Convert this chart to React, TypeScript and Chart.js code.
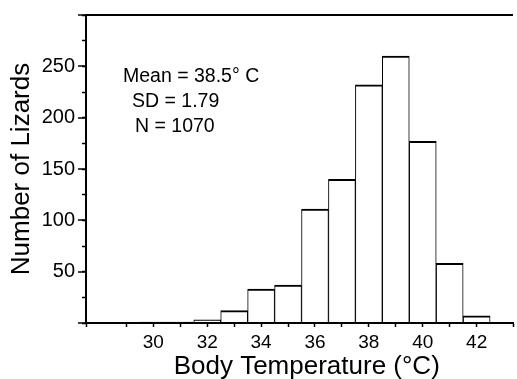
import React, { useEffect, useRef } from "react";
import { Chart, registerables } from "chart.js";

Chart.register(...registerables);

const temperatures = [30, 31, 32, 33, 34, 35, 36, 37, 38, 39, 40, 41, 42];
const lizardCounts = [1, 1, 3, 12, 33, 37, 111, 140, 232, 260, 177, 58, 7];
const xTickLabels = [30, 32, 34, 36, 38, 40, 42];
const yTickLabels = [50, 100, 150, 200, 250];
const statsLines = ["Mean = 38.5\u00b0 C", "SD = 1.79", "N = 1070"];

const FONT = '"Liberation Sans", Arial, Helvetica, sans-serif';

const statsPlugin = {
  id: "statsText",
  afterDatasetsDraw(chart: any) {
    const { ctx, chartArea } = chart;
    const offsets = [
      [37, 66.5],
      [46, 92],
      [49, 117],
    ];
    ctx.save();
    ctx.fillStyle = "#000";
    ctx.font = `19.5px ${FONT}`;
    ctx.textAlign = "left";
    ctx.textBaseline = "alphabetic";
    statsLines.forEach((line, i) => {
      ctx.fillText(line, chartArea.left + offsets[i][0], chartArea.top + offsets[i][1]);
    });
    ctx.restore();
  },
};

export default function App() {
  const ref = useRef<HTMLCanvasElement | null>(null);

  useEffect(() => {
    if (!ref.current) return;
    const chart = new Chart(ref.current, {
      type: "bar",
      data: {
        datasets: [
          {
            data: temperatures.map((t, i) => ({ x: t, y: lizardCounts[i] })),
            backgroundColor: "#fff",
            borderColor: "#000",
            borderWidth: { top: 2, left: 1, right: 1, bottom: 0 },
            borderSkipped: "start",
            barPercentage: 1,
            categoryPercentage: 1,
          },
        ],
      },
      options: {
        responsive: false,
        animation: false,
        layout: { padding: { left: 0, top: 13, right: 0, bottom: 0 } },
        plugins: {
          legend: { display: false },
          tooltip: { enabled: false },
        },
        scales: {
          x: {
            type: "linear",
            min: 27.5,
            max: 43.35,
            offset: false,
            grid: {
              offset: false,
              drawOnChartArea: false,
              tickLength: 4,
              tickColor: "#000",
              tickWidth: 1.5,
            },
            border: { display: true, color: "#000", width: 2 },
            ticks: {
              stepSize: 1,
              autoSkip: false,
              maxRotation: 0,
              padding: 4,
              color: "#000",
              font: { family: FONT, size: 19 },
              callback: (v: any) => (xTickLabels.includes(Number(v)) ? String(v) : ""),
            },
            title: {
              display: true,
              text: "  Body Temperature (\u00b0C)",
              color: "#000",
              font: { family: FONT, size: 26, lineHeight: 1 },
              padding: { top: 0, bottom: -1 },
            },
            afterFit: (s: any) => {
              s.height = 56;
            },
          },
          y: {
            type: "linear",
            position: "left",
            weight: 1,
            min: 0,
            max: 300,
            grid: {
              drawOnChartArea: true,
              color: (c: any) => (c.tick && c.tick.value === 300 ? "#000" : "rgba(0,0,0,0)"),
              lineWidth: 2,
              tickColor: "#000",
              tickWidth: 1.5,
              tickLength: 8,
            },
            border: { display: true, color: "#000", width: 2 },
            ticks: {
              stepSize: 50,
              padding: 3,
              color: "#000",
              font: { family: FONT, size: 20 },
              callback: (v: any) => (yTickLabels.includes(Number(v)) ? String(v) : ""),
            },
            title: {
              display: true,
              text: "Number of Lizards",
              color: "#000",
              font: { family: FONT, size: 26, lineHeight: 1 },
              padding: { top: 9, bottom: 0 },
            },
            afterFit: (s: any) => {
              s.width = 86;
            },
          },
          yMinor: {
            type: "linear",
            position: "left",
            weight: 0,
            min: 0,
            max: 300,
            grid: {
              drawOnChartArea: false,
              tickColor: "#000",
              tickWidth: 1.5,
              tickLength: 4,
            },
            border: { display: false },
            ticks: { stepSize: 25, display: false },
            afterFit: (s: any) => {
              s.width = 0;
            },
          },
        },
      } as any,
      plugins: [statsPlugin],
    });
    return () => chart.destroy();
  }, []);

  return (
    <div style={{ position: "absolute", left: 0, top: 0, width: 517, height: 379, background: "#fff" }}>
      <canvas ref={ref} width={517} height={379} />
    </div>
  );
}
